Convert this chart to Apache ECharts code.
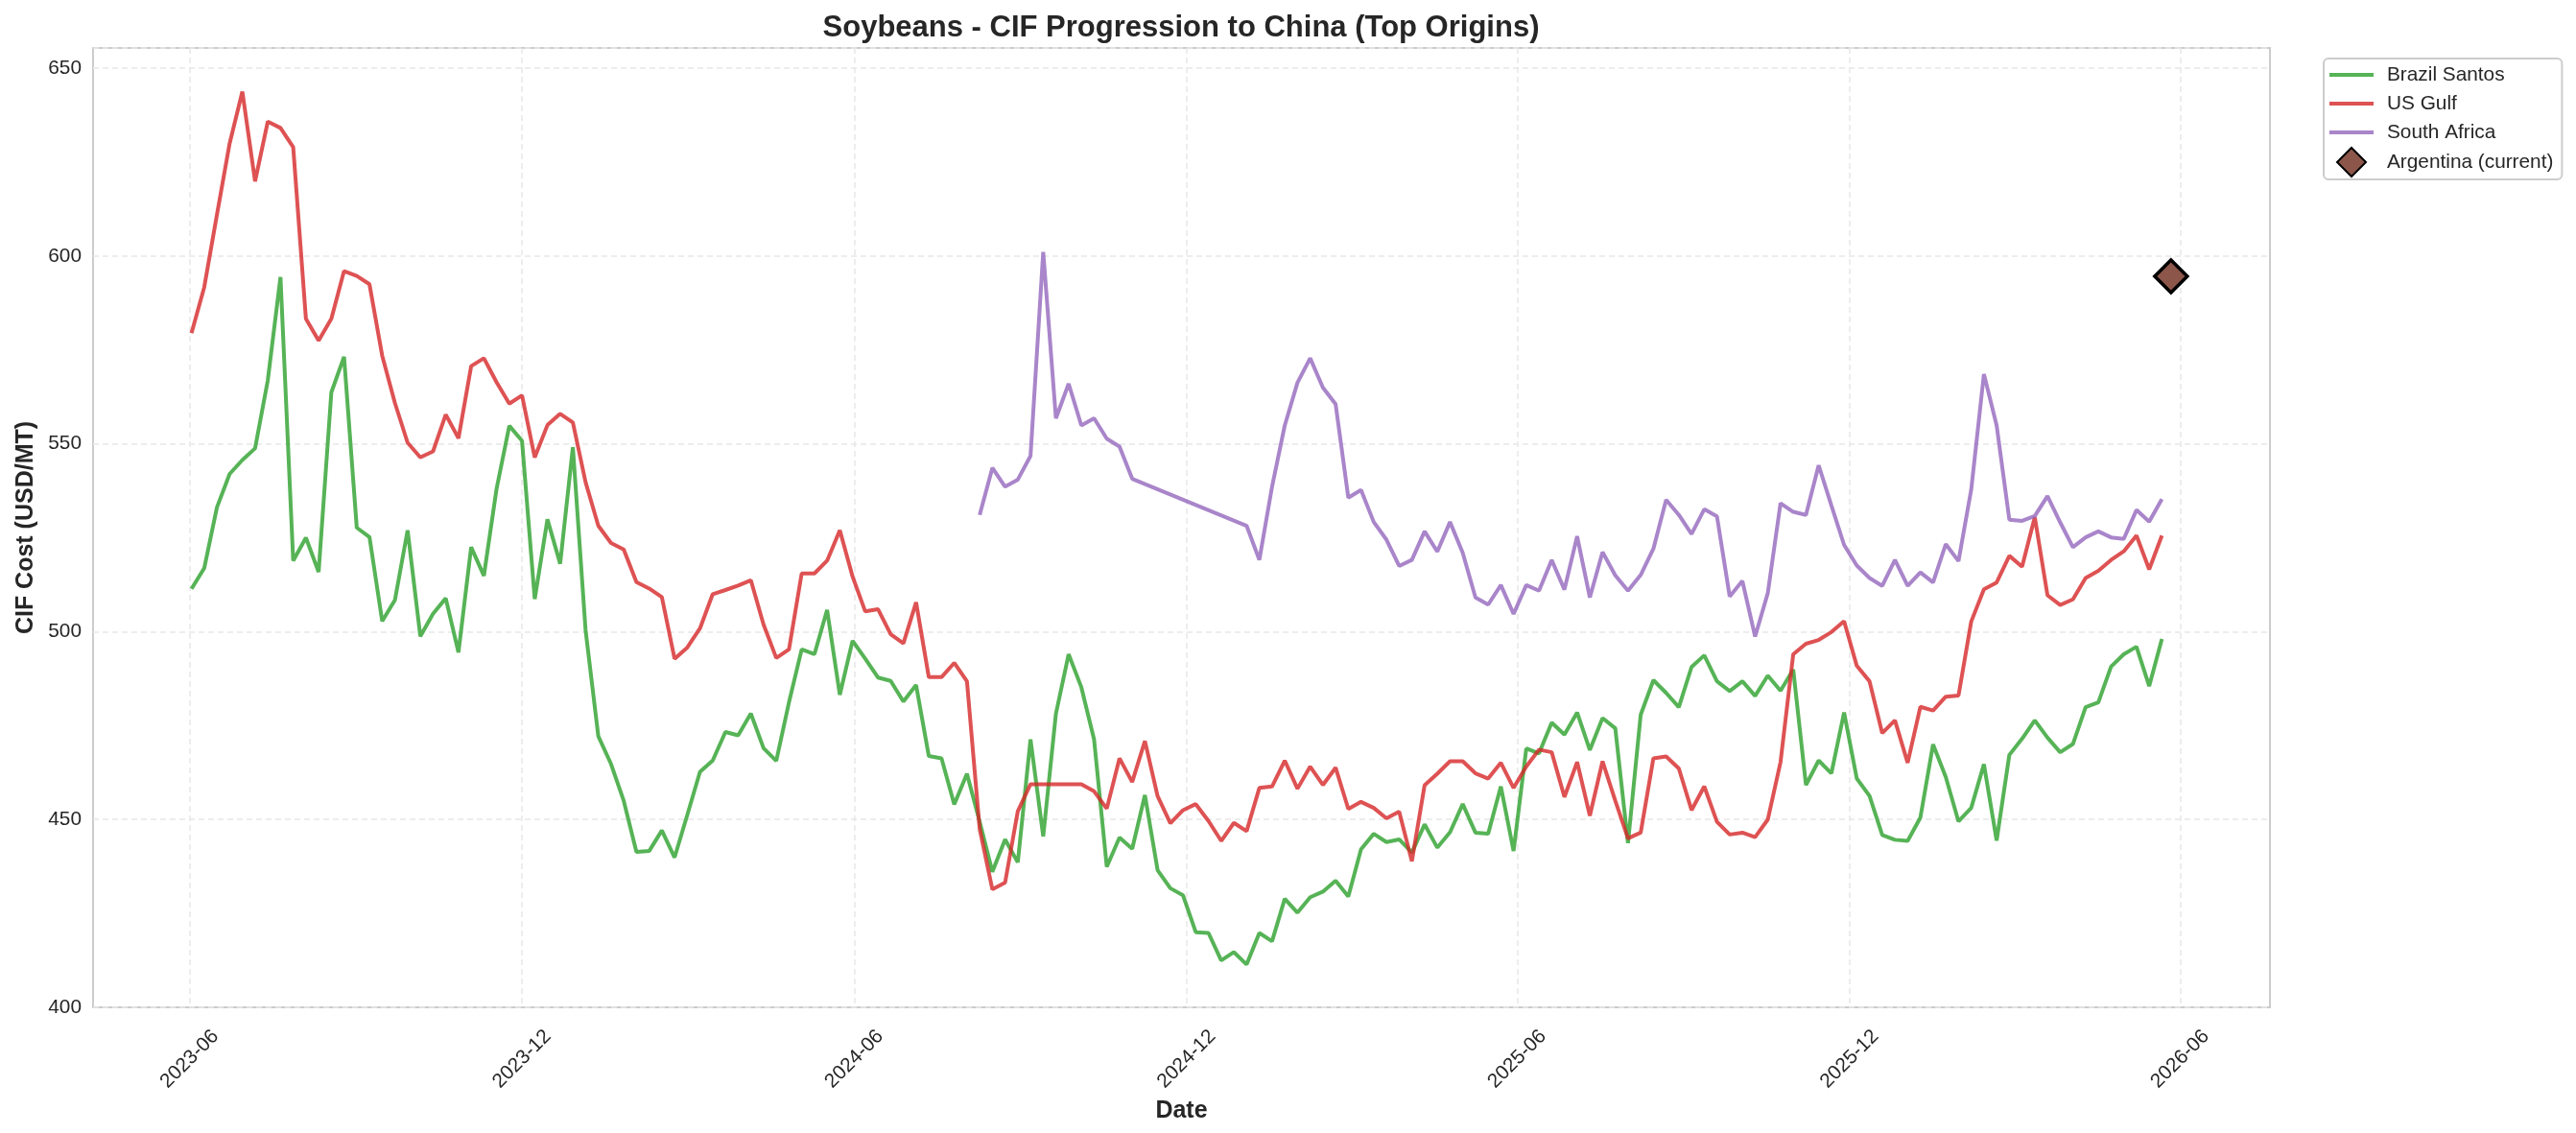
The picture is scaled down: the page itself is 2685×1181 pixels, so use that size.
<!DOCTYPE html>
<html>
<head>
<meta charset="utf-8">
<title>Soybeans - CIF Progression to China</title>
<script src="https://cdn.jsdelivr.net/npm/echarts@6/dist/echarts.min.js"></script>
<style>
  html, body { margin: 0; padding: 0; background: #fff; }
  #chart { width: 2685px; height: 1181px; }
</style>
</head>
<body>
<div id="chart"></div>
<script>
// weekly observation dates (Fridays)
var weeks = [
  "2023-06-02","2023-06-09","2023-06-16","2023-06-23","2023-06-30","2023-07-07","2023-07-14","2023-07-21","2023-07-28",
  "2023-08-04","2023-08-11","2023-08-18","2023-08-25","2023-09-01","2023-09-08","2023-09-15","2023-09-22","2023-09-29",
  "2023-10-06","2023-10-13","2023-10-20","2023-10-27","2023-11-03","2023-11-10","2023-11-17","2023-11-24","2023-12-01",
  "2023-12-08","2023-12-15","2023-12-22","2023-12-29",
  "2024-01-05","2024-01-12","2024-01-19","2024-01-26","2024-02-02","2024-02-09","2024-02-16","2024-02-23","2024-03-01",
  "2024-03-08","2024-03-15","2024-03-22","2024-03-29","2024-04-05","2024-04-12","2024-04-19","2024-04-26","2024-05-03",
  "2024-05-10","2024-05-17","2024-05-24","2024-05-31","2024-06-07","2024-06-14","2024-06-21","2024-06-28","2024-07-05",
  "2024-07-12","2024-07-19","2024-07-26","2024-08-02","2024-08-09","2024-08-16","2024-08-23","2024-08-30","2024-09-06",
  "2024-09-13","2024-09-20","2024-09-27","2024-10-04","2024-10-11","2024-10-18","2024-10-25","2024-11-01","2024-11-08",
  "2024-11-15","2024-11-22","2024-11-29","2024-12-06","2024-12-13","2024-12-20","2024-12-27",
  "2025-01-03","2025-01-10","2025-01-17","2025-01-24","2025-01-31","2025-02-07","2025-02-14","2025-02-21","2025-02-28",
  "2025-03-07","2025-03-14","2025-03-21","2025-03-28","2025-04-04","2025-04-11","2025-04-18","2025-04-25","2025-05-02",
  "2025-05-09","2025-05-16","2025-05-23","2025-05-30","2025-06-06","2025-06-13","2025-06-20","2025-06-27","2025-07-04",
  "2025-07-11","2025-07-18","2025-07-25","2025-08-01","2025-08-08","2025-08-15","2025-08-22","2025-08-29","2025-09-05",
  "2025-09-12","2025-09-19","2025-09-26","2025-10-03","2025-10-10","2025-10-17","2025-10-24","2025-10-31","2025-11-07",
  "2025-11-14","2025-11-21","2025-11-28","2025-12-05","2025-12-12","2025-12-19","2025-12-26",
  "2026-01-02","2026-01-09","2026-01-16","2026-01-23","2026-01-30","2026-02-06","2026-02-13","2026-02-20","2026-02-27",
  "2026-03-06","2026-03-13","2026-03-20","2026-03-27","2026-04-03","2026-04-10","2026-04-17","2026-04-24","2026-05-01",
  "2026-05-08","2026-05-15","2026-05-22"
];

var brazilSantos = [
  511.4,516.9,533.1,542.0,545.7,548.8,566.9,594.4,518.9,525.0,515.9,563.7,573.2,527.7,525.2,502.8,508.4,527.0,
  498.8,504.8,508.9,494.5,522.5,514.9,538.1,554.8,550.8,508.7,529.9,518.1,549.1,
  500.4,472.2,464.8,455.0,441.4,441.6,447.1,439.9,451.2,462.7,465.7,473.3,472.4,478.2,469.0,465.6,481.2,495.3,
  494.0,505.8,483.2,497.6,492.8,487.8,486.9,481.4,485.8,466.9,466.3,454.0,462.2,449.4,436.1,444.7,438.6,471.3,
  445.5,478.2,494.0,485.2,471.3,437.4,445.2,442.2,456.5,436.5,431.7,429.8,420.0,419.8,412.5,414.7,
  411.4,419.8,417.6,428.9,425.2,429.3,430.8,433.7,429.5,442.1,446.2,444.0,444.7,441.2,448.7,442.5,446.6,454.1,
  446.5,446.2,458.8,441.6,468.9,467.6,475.8,472.6,478.5,468.5,477.0,474.3,443.7,477.9,487.1,483.7,479.9,490.6,
  493.7,486.8,484.2,486.8,482.9,488.3,484.3,489.9,459.2,465.7,462.3,478.5,460.9,456.3,445.9,444.6,
  444.3,450.5,470.0,461.3,449.5,453.1,464.7,444.4,467.2,471.5,476.4,471.8,467.9,470.1,479.9,481.2,490.7,494.0,
  496.0,485.5,498.1
];

var usGulf = [
  579.5,591.7,611.0,630.0,643.8,619.9,635.8,634.1,629.0,583.3,577.5,583.3,596.0,594.7,592.5,573.5,560.9,550.3,
  546.4,548.0,557.8,551.5,570.7,572.8,566.4,560.7,562.9,546.4,555.0,558.0,555.7,
  539.8,528.2,523.6,521.9,513.2,511.5,509.2,492.8,495.8,500.9,510.0,511.1,512.3,513.7,501.9,493.0,495.3,515.5,
  515.5,518.9,527.0,514.7,505.4,506.0,499.3,496.9,507.8,487.9,487.9,491.7,486.8,447.5,431.4,433.2,452.2,459.4,
  459.4,459.4,459.4,459.4,457.5,452.9,466.3,460.0,470.9,456.2,449.0,452.5,454.1,449.6,444.3,449.1,
  446.9,458.4,458.8,465.7,458.2,464.1,459.2,463.8,452.8,454.7,453.1,450.3,452.1,438.9,459.1,462.2,465.5,465.5,
  462.3,460.9,465.1,458.4,464.1,468.6,467.9,456.0,465.3,451.0,465.5,455.0,445.0,446.5,466.3,466.8,463.6,452.5,
  458.8,449.4,446.0,446.5,445.3,450.0,465.3,494.0,496.8,497.8,499.9,502.8,490.9,486.8,473.0,476.4,
  465.1,480.0,479.0,482.7,483.0,502.7,511.3,513.1,520.2,517.3,530.5,509.7,507.1,508.6,514.3,516.2,519.1,521.4,
  525.6,516.6,525.6
];

var southAfrica = [
  null,null,null,null,null,null,null,null,null,null,null,null,null,null,null,null,null,null,
  null,null,null,null,null,null,null,null,null,null,null,null,null,
  null,null,null,null,null,null,null,null,null,null,null,null,null,null,null,null,null,null,
  null,null,null,null,null,null,null,null,null,null,null,null,null,531.1,543.6,538.6,540.5,546.8,
  601.1,556.8,566.0,554.9,556.8,551.4,549.3,540.7,null,null,null,null,null,null,null,null,
  528.2,519.1,538.6,554.9,566.3,572.8,565.0,560.6,535.7,537.7,529.2,524.5,517.5,519.1,526.7,521.3,529.2,521.0,
  509.1,507.2,512.4,504.7,512.4,510.9,519.1,511.2,525.4,509.1,521.2,515.0,510.9,515.1,522.1,535.1,531.1,526.0,
  532.6,530.7,509.4,513.5,498.7,510.3,534.2,531.9,531.1,544.3,533.6,523.1,517.6,514.3,512.2,519.1,
  512.2,515.8,513.1,523.3,518.8,537.8,568.6,554.9,529.8,529.5,530.8,536.1,529.1,522.5,525.1,526.7,525.1,524.7,
  532.4,529.3,535.3
];

var argentinaDate = ["2026-05-27"];
var argentinaValue = [594.6];

var xTickDates = ["2023-06-01","2023-12-01","2024-06-01","2024-12-01","2025-06-01","2025-12-01","2026-06-01"];
var yTicks = [400, 450, 500, 550, 600, 650];

function toTime(s) {
  var p = s.split("-");
  return new Date(+p[0], +p[1] - 1, +p[2]).getTime();
}
function pairs(dates, vals) {
  var out = [];
  for (var i = 0; i < vals.length; i++) {
    if (vals[i] != null) out.push([toTime(dates[i]), vals[i]]);
  }
  return out;
}

var font = "'Liberation Sans', Arial, sans-serif";
var ink = "#262626";
var gridLine = { show: true, lineStyle: { color: "#e8e8e8", width: 1.5, type: [6, 4] } };
var xTickTimes = xTickDates.map(toTime);
var lineIcon = "path://M0,0H46V4H0Z";
var diamondIcon = "path://M15,0L30,15L15,30L0,15Z";

var myChart = echarts.init(document.getElementById("chart"));
var option = {
  animation: false,
  backgroundColor: "#ffffff",
  textStyle: { fontFamily: font },
  title: {
    text: "Soybeans - CIF Progression to China (Top Origins)",
    left: 1231,
    top: 14,
    padding: 0,
    textAlign: "center",
    textStyle: { fontSize: 31, fontWeight: "bold", color: ink, fontFamily: font }
  },
  grid: {
    left: 97,
    right: 319,
    top: 50,
    bottom: 131,
    show: true,
    borderColor: "#cccccc",
    borderWidth: 2,
    containLabel: false
  },
  legend: {
    orient: "vertical",
    left: 2422,
    top: 61,
    padding: [2, 9, 2, 6],
    itemWidth: 46,
    itemHeight: 30,
    itemGap: 0,
    borderColor: "#cccccc",
    borderWidth: 2,
    borderRadius: 5,
    backgroundColor: "rgba(255,255,255,0.8)",
    textStyle: { fontSize: 20.8, lineHeight: 30, color: ink, fontFamily: font, padding: [0, 0, 0, 9] },
    data: [
      { name: "Brazil Santos", icon: lineIcon },
      { name: "US Gulf", icon: lineIcon },
      { name: "South Africa", icon: lineIcon },
      { name: "Argentina (current)", icon: diamondIcon }
    ]
  },
  xAxis: {
    type: "value",
    min: new Date(2023, 3, 8, 19).getTime(),
    max: new Date(2026, 6, 20, 12).getTime(),
    name: "Date",
    nameLocation: "middle",
    nameGap: 93,
    nameTextStyle: { fontSize: 25, fontWeight: "bold", color: ink, fontFamily: font },
    axisLine: { show: false },
    axisTick: { show: false, customValues: xTickTimes },
    axisLabel: {
      customValues: xTickTimes,
      rotate: 45,
      align: "center",
      verticalAlign: "middle",
      margin: 54,
      fontSize: 20.8,
      color: ink,
      fontFamily: font,
      formatter: function(v) {
        var d = new Date(v);
        var m = d.getMonth() + 1;
        return d.getFullYear() + "-" + (m < 10 ? "0" + m : m);
      }
    },
    splitLine: gridLine
  },
  yAxis: {
    type: "value",
    min: 400,
    max: 655.4,
    interval: 50,
    name: "CIF Cost (USD/MT)",
    nameLocation: "middle",
    nameGap: 55,
    nameTextStyle: { fontSize: 25, fontWeight: "bold", color: ink, fontFamily: font },
    axisLine: { show: false },
    axisTick: { show: false },
    axisLabel: {
      margin: 12,
      fontSize: 20.8,
      color: ink,
      fontFamily: font,
      formatter: function(v) {
        return yTicks.indexOf(v) >= 0 ? String(v) : "";
      }
    },
    splitLine: gridLine
  },
  series: [
    {
      name: "Brazil Santos",
      type: "line",
      symbol: "none",
      color: "rgba(44,160,44,0.8)",
      lineStyle: { width: 4 },
      data: pairs(weeks, brazilSantos)
    },
    {
      name: "US Gulf",
      type: "line",
      symbol: "none",
      color: "rgba(214,39,40,0.8)",
      lineStyle: { width: 4 },
      data: pairs(weeks, usGulf)
    },
    {
      name: "South Africa",
      type: "line",
      symbol: "none",
      color: "rgba(148,103,189,0.8)",
      lineStyle: { width: 4 },
      data: pairs(weeks, southAfrica)
    },
    {
      name: "Argentina (current)",
      type: "scatter",
      symbol: "diamond",
      symbolSize: 34,
      itemStyle: { color: "#8c564b", opacity: 1, borderColor: "#000000", borderWidth: 3.5 },
      z: 5,
      data: pairs(argentinaDate, argentinaValue)
    }
  ]
};
myChart.setOption(option);
</script>
</body>
</html>
